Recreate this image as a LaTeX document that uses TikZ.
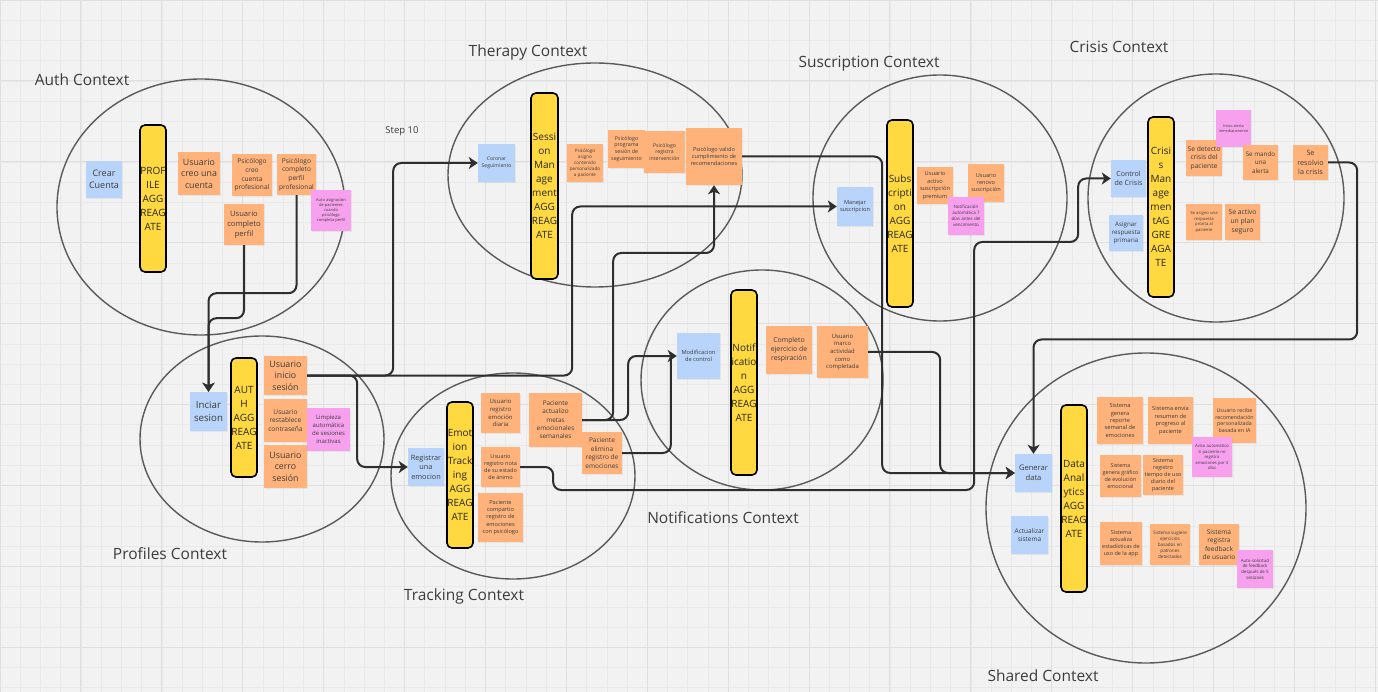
\documentclass[tikz,border=0pt]{standalone}
\usepackage{fontspec}
\setmainfont{Open Sans}
\usetikzlibrary{arrows.meta,shadows}

\definecolor{bgc}{HTML}{F2F2F2}
\definecolor{gridminor}{HTML}{E9E9E9}
\definecolor{gridmajor}{HTML}{DFDFDF}
\definecolor{ctxline}{HTML}{5A5A5A}
\definecolor{linec}{HTML}{2E2E2E}
\definecolor{aggyellow}{HTML}{FFD93F}
\definecolor{noteblue}{HTML}{B8D4FB}
\definecolor{noteorange}{HTML}{FFB37A}
\definecolor{notepink}{HTML}{F7A1EE}
\definecolor{notetext}{HTML}{3C3C3C}

\newcommand{\nfs}[1]{\pgfmathsetmacro\nfsskip{#1*1.3}\fontsize{#1}{\nfsskip}\selectfont}

\tikzset{
  ctx/.style={draw=ctxline, line width=1.4pt},
  ctxtitle/.style={font=\nfs{15.5}, text=notetext, inner sep=0pt},
  note/.style={inner sep=0.5pt, align=center, text=notetext,
    drop shadow={opacity=0.12, shadow xshift=0.6pt, shadow yshift=-0.8pt}},
  bnote/.style={note, fill=noteblue},
  onote/.style={note, fill=noteorange},
  pnote/.style={note, fill=notepink},
  wh/.style 2 args={minimum width=#1pt, minimum height=#2pt},
  aggbar/.style={draw=black, fill=aggyellow, line width=1.6pt, rounded corners=5pt,
    inner sep=0pt, align=center, text=black!85, minimum width=26pt,
    font=\fontsize{10}{14}\selectfont},
  flow/.style={draw=linec, line width=2pt, rounded corners=8pt,
    -{Stealth[length=9pt, width=12pt, inset=2.5pt]}},
  flowline/.style={draw=linec, line width=2pt, rounded corners=8pt}
}

\begin{document}
\begin{tikzpicture}[x=1pt, y=-1pt]
    % Board
    \fill[bgc] (0,0) rectangle (1378,692);
    \useasboundingbox (0,0) rectangle (1378,692);
    \draw[gridminor, line width=0.5pt, step=20.225pt] (0,0) grid (1378,692);
    \draw[gridmajor, line width=0.9pt, step=80.9pt] (0,0) grid (1378,692);

    % Contexts
    \draw[ctx] (201,207) ellipse [x radius=144pt, y radius=128pt];
    \draw[ctx] (262,439) ellipse [x radius=122pt, y radius=103pt];
    \draw[ctx] (513,476) ellipse [x radius=122pt, y radius=103pt];
    \draw[ctx] (595,175) ellipse [x radius=147pt, y radius=112pt];
    \draw[ctx] (762,380) ellipse [x radius=121pt, y radius=110pt];
    \draw[ctx] (940,198) ellipse [x radius=127pt, y radius=123pt];
    \draw[ctx] (1216,198) ellipse [x radius=128pt, y radius=124pt];
    \draw[ctx] (1146,508) ellipse [x radius=160pt, y radius=155pt];

    \node[ctxtitle] (tauth) at (82,80) {Auth Context};
    \node[ctxtitle] (tther) at (528,52) {Therapy Context};
    \node[ctxtitle] (tsub) at (869,64) {Suscription Context};
    \node[ctxtitle] (tcri) at (1119,47) {Crisis Context};
    \node[ctxtitle] (tprof) at (170,554) {Profiles Context};
    \node[ctxtitle] (ttrack) at (464,596) {Tracking Context};
    \node[ctxtitle] (tnotif) at (723,518) {Notifications Context};
    \node[ctxtitle] (tshared) at (1043,676) {Shared Context};
    \node[font=\nfs{9.5}, text=notetext] (step) at (402,131) {Step 10};

    % Auth context
    \node[bnote, wh={36}{37}, font=\nfs{9}] (cc) at (104,179.5) {Crear\\Cuenta};
    \node[aggbar, minimum height=147pt] (profagg) at (153,198.5) {PROF\\ILE\\AGG\\REAG\\ATE};
    \node[onote, wh={42}{43}, font=\nfs{8.8}] (ucc) at (199,173.5) {Usuario\\creo una\\cuenta};
    \node[onote, wh={40}{42}, font=\nfs{6.6}] (pccp) at (252,175) {Psicólogo\\creo\\cuenta\\profesional};
    \node[onote, wh={39}{41}, font=\nfs{6.6}] (pcpp) at (296.5,174.5) {Psicólogo\\completo\\perfil\\profesional};
    \node[pnote, wh={40}{41}, font=\nfs{4}] (aap) at (331,210.5) {Auto asignación\\de pacientes\\cuando\\psicólogo\\completa perfil};
    \node[onote, wh={40}{41}, font=\nfs{7.6}] (ucp) at (244,224.5) {Usuario\\completo\\perfil};

    % Profiles context
    \node[bnote, wh={37}{39}, font=\nfs{9.7}] (is) at (208.5,411.5) {Inciar\\sesion};
    \node[aggbar, minimum height=119pt] (authagg) at (244,417.5) {AUT\\H\\AGG\\REAG\\ATE};
    \node[onote, wh={43}{39}, font=\nfs{8.8}] (uis) at (285.5,375.5) {Usuario\\inicio\\sesión};
    \node[onote, wh={43}{43}, font=\nfs{6.6}] (urc) at (285.5,420.5) {Usuario\\restablece\\contraseña};
    \node[pnote, wh={43}{43}, font=\nfs{6}] (las) at (328.5,429.5) {Limpieza\\automática\\de sesiones\\inactivas};
    \node[onote, wh={43}{43}, font=\nfs{8.8}] (ucs) at (285.5,466.5) {Usuario\\cerro\\sesión};

    % Tracking context
    \node[bnote, wh={36}{38}, font=\nfs{7.3}] (rue) at (426,467) {Registrar\\una\\emocion};
    \node[aggbar, minimum height=146pt] (emoagg) at (460,475) {Emot\\ion\\Track\\ing\\AGG\\REAG\\ATE};
    \node[onote, wh={39}{40}, font=\nfs{6}] (ued) at (500.5,413) {Usuario\\registro\\emoción\\diaria};
    \node[onote, wh={39}{40}, font=\nfs{5.5}] (urn) at (500.5,467) {Usuario\\registro nota\\de su estado\\de ánimo};
    \node[onote, wh={45}{49}, font=\nfs{5.6}] (pcr) at (500.5,517.5) {Paciente\\compartio\\registro de\\emociones\\con psicólogo};
    \node[onote, wh={53}{54}, font=\nfs{6.4}] (pam) at (555.5,420) {Paciente\\actualizo\\metas\\emocionales\\semanales};
    \node[onote, wh={40}{42}, font=\nfs{6.5}] (per) at (602,453) {Paciente\\elimina\\registro de\\emociones};

    % Therapy context
    \node[bnote, wh={37}{38}, font=\nfs{5.1}] (cs) at (496.5,163) {Coronar\\Seguimiento};
    \node[aggbar, minimum width=27pt, minimum height=186pt] (sesagg) at (544.5,186) {Sessi\\on\\Man\\age\\ment\\AGG\\REAG\\ATE};
    \node[onote, wh={36}{38}, font=\nfs{4.6}] (pac) at (585,163) {Psicólogo\\asigno\\contenido\\personalizado\\a paciente};
    \node[onote, wh={37}{38}, font=\nfs{5.3}] (pps) at (626.5,149) {Psicólogo\\programa\\sesión de\\seguimiento};
    \node[onote, wh={41}{42}, font=\nfs{5.2}] (pri) at (664.5,152) {Psicólogo\\registra\\intervención};
    \node[onote, wh={56}{57}, font=\nfs{5.6}] (pvc) at (714,156.5) {Psicólogo valido\\cumplimiento de\\recomendaciones};

    % Notifications context
    \node[bnote, wh={43}{46}, font=\nfs{5.7}] (mc) at (698.5,356) {Modificacion\\de control};
    \node[aggbar, minimum height=185pt] (notagg) at (744,382.5) {Notif\\icatio\\n\\AGG\\REAG\\ATE};
    \node[onote, wh={46}{48}, font=\nfs{6.9}] (cer) at (789,350) {Completo\\ejercicio de\\respiración};
    \node[onote, wh={51}{52}, font=\nfs{5.9}] (uma) at (842.5,352) {Usuario\\marco\\actividad\\como\\completada};

    % Suscription context
    \node[bnote, wh={36}{39}, font=\nfs{5.7}] (ms) at (855,206.5) {Manejar\\suscripcion};
    \node[aggbar, minimum height=187pt] (subagg) at (900,213.5) {Subs\\cripti\\on\\AGG\\REAG\\ATE};
    \node[onote, wh={36}{37}, font=\nfs{5.7}] (uasp) at (935,185.5) {Usuario\\activo\\suscripción\\premium};
    \node[onote, wh={36}{38}, font=\nfs{5.6}] (urs) at (986,183) {Usuario\\renovo\\suscripción};
    \node[pnote, wh={36}{38}, font=\nfs{4.5}] (nav) at (966,216) {Notificación\\automática 7\\días antes del\\vencimiento};

    % Crisis context
    \node[bnote, wh={35}{37}, font=\nfs{7.1}] (ccr) at (1128.5,178.5) {Control\\de Crisis};
    \node[bnote, wh={34}{36}, font=\nfs{6.2}] (arp) at (1126,233) {Asignar\\respuesta\\primaria};
    \node[aggbar, minimum height=180pt] (criagg) at (1161,207) {Crisi\\s\\Man\\age\\men\\tAG\\GRE\\AGA\\TE};
    \node[onote, wh={36}{36}, font=\nfs{6.7}] (sdc) at (1204,158) {Se detecto\\crisis del\\paciente};
    \node[pnote, wh={35}{37}, font=\nfs{3.8}] (iai) at (1233.5,128.5) {Inicio alerta\\inmediatamente};
    \node[onote, wh={35}{35}, font=\nfs{6.3}] (sma) at (1260.5,162.5) {Se mando\\una\\alerta};
    \node[onote, wh={35}{35}, font=\nfs{7.2}] (src) at (1310.5,162.5) {Se\\resolvio\\la crisis};
    \node[onote, wh={36}{36}, font=\nfs{4.2}] (sar) at (1204,222) {Se asigno una\\respuesta\\pronta al\\paciente};
    \node[onote, wh={35}{36}, font=\nfs{6.8}] (sap) at (1242.5,222) {Se activo\\un plan\\seguro};

    % Shared context
    \node[bnote, wh={37}{38}, font=\nfs{7.6}] (gd) at (1033.5,473) {Generar\\data};
    \node[bnote, wh={37}{38}, font=\nfs{6.5}] (as) at (1029.5,535) {Actualizar\\sistema};
    \node[aggbar, minimum height=187pt] (dataagg) at (1074,498.5) {Data\\Anal\\ytics\\AGG\\REAG\\ATE};
    \node[onote, wh={46}{47}, font=\nfs{5.7}] (sgr) at (1120,420.5) {Sistema\\genera\\reporte\\semanal de\\emociones};
    \node[onote, wh={45}{47}, font=\nfs{5.7}] (serp) at (1170.5,420.5) {Sistema envía\\resumen de\\progreso al\\paciente};
    \node[onote, wh={43}{45}, font=\nfs{5.3}] (urr) at (1234.5,420.5) {Usuario recibe\\recomendación\\personalizada\\basada en IA};
    \node[pnote, wh={40}{40}, font=\nfs{4.2}] (aas) at (1212,457) {Aviso automático\\si paciente no\\registra\\emociones por 3\\días};
    \node[onote, wh={41}{42}, font=\nfs{5.4}] (sgg) at (1120.5,476) {Sistema\\genera gráfico\\de evolución\\emocional};
    \node[onote, wh={40}{40}, font=\nfs{5.5}] (srt) at (1163,475) {Sistema\\registro\\tiempo de uso\\diario del\\paciente};
    \node[onote, wh={42}{43}, font=\nfs{5.5}] (sae) at (1121,543.5) {Sistema\\actualiza\\estadísticas de\\uso de la app};
    \node[onote, wh={40}{41}, font=\nfs{4.6}] (sse) at (1170,544.5) {Sistema sugiere\\ejercicios\\basados en\\patrones\\detectados};
    \node[onote, wh={40}{41}, font=\nfs{6.6}] (srf) at (1219,544.5) {Sistema\\registra\\feedback\\de usuario};
    \node[pnote, wh={36}{38}, font=\nfs{4.4}] (asf) at (1255,569) {Auto-solicitud\\de feedback\\después de 5\\sesiones};

    % Flows
    \draw[flow] (ucp.south) -- ++(0,73) -| (is.north);
    \draw[flow] (pcpp.south) -- ++(0,98) -| (is.north);
    \draw[flow] (uis.east) -- ++(86,0) |- (cs.west);
    \draw[flow] (uis.east) -- ++(265,0) |- (ms.west);
    \draw[flow] (uis.east) -- ++(50,0) |- (rue.west);
    \draw[flow] (urn.east) -- ++(33,0) -- ++(0,23) -- ++(421,0) -- ++(0,-248) -- ++(104,0) |- (ccr.west);
    \draw[flow] (pam.east) -- ++(31,0) -- ++(0,-167) -| (pvc.south);
    \draw[flow] (pam.east) -- ++(46,0) |- (mc.west);
    \draw[flowline] (per.east) -| ([xshift=-6pt]mc.west);
    \draw[flow] (uma.east) -- ++(72,0) |- (gd.west);
    \draw[flow] (pvc.east) -- ++(140,0) |- (gd.west);
    \draw[flow] (src.east) -- ++(29,0) -- ++(0,177) -| (gd.north);

\end{tikzpicture}
\end{document}
